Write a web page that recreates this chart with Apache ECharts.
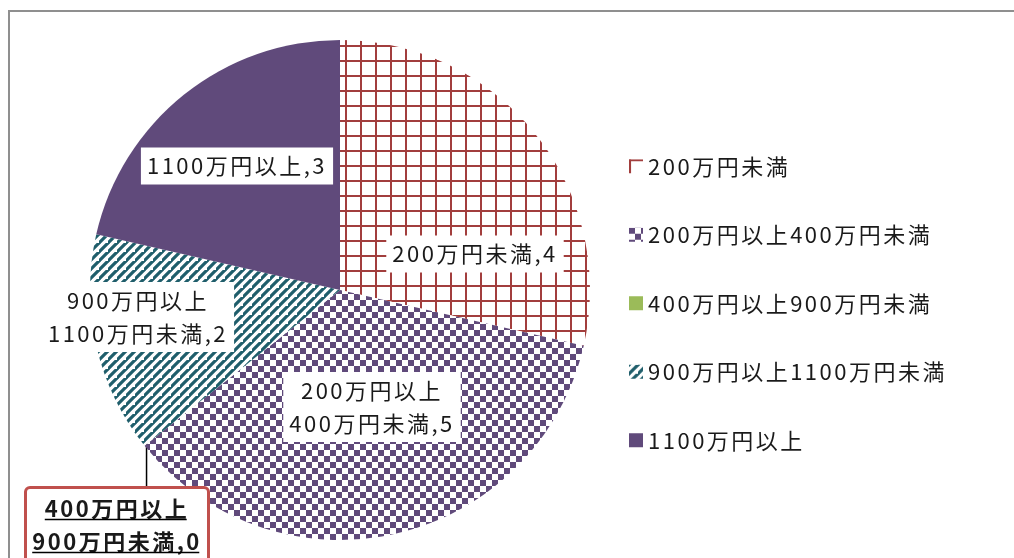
<!DOCTYPE html>
<html>
<head>
<meta charset="utf-8">
<script src="https://cdn.jsdelivr.net/npm/echarts@6/dist/echarts.min.js"></script>
<style>
html,body{margin:0;padding:0;background:#fff;}
#main{width:1014px;height:558px;}
</style>
</head>
<body>
<div id="main"></div>
<script>
// ---- data ----
const categories = ['200万円未満', '200万円以上400万円未満', '400万円以上900万円未満', '900万円以上1100万円未満', '1100万円以上'];
const labelNames = ['200万円未満', '200万円以上\n400万円未満', '400万円以上\n900万円未満', '900万円以上\n1100万円未満', '1100万円以上'];
const values = [4, 5, 0, 2, 3];

// ---- layout / style ----
const FONT = '"Noto Sans CJK JP", "Noto Sans", sans-serif';
const CENTER = [340, 290];
const RADIUS = 250;
const labelPos = [[475, 254], [372, 407], [117, 489], [138, 317], [237, 166]];
const LETTER_SPACING = '2.5px';

// wider character spacing, as in the reference rendering
(function () {
  const proto = CanvasRenderingContext2D.prototype;
  const origFill = proto.fillText, origStroke = proto.strokeText;
  proto.fillText = function () { try { this.letterSpacing = LETTER_SPACING; } catch (e) {} return origFill.apply(this, arguments); };
  proto.strokeText = function () { try { this.letterSpacing = LETTER_SPACING; } catch (e) {} return origStroke.apply(this, arguments); };
  const mctx = document.createElement('canvas').getContext('2d');
  if (echarts.setPlatformAPI) {
    echarts.setPlatformAPI({
      measureText: function (text, font) {
        mctx.font = font || '12px sans-serif';
        try { mctx.letterSpacing = LETTER_SPACING; } catch (e) {}
        return mctx.measureText(text);
      }
    });
  }
})();

function makeCanvas(w, h) { const c = document.createElement('canvas'); c.width = w; c.height = h; return c; }
function gridPattern() {
  const c = makeCanvas(15, 15), g = c.getContext('2d');
  g.fillStyle = '#fff'; g.fillRect(0, 0, 15, 15);
  g.fillStyle = '#A23E3D';
  g.fillRect(0, 0, 2, 15); g.fillRect(0, 0, 15, 2);
  return c;
}
function checkerPattern() {
  const c = makeCanvas(12, 12), g = c.getContext('2d');
  g.fillStyle = '#fff'; g.fillRect(0, 0, 12, 12);
  g.fillStyle = '#604A7B';
  g.fillRect(0, 0, 6, 6); g.fillRect(6, 6, 6, 6);
  return c;
}
function stripePattern() {
  const s = 9;
  const c = makeCanvas(s, s), g = c.getContext('2d');
  g.fillStyle = '#fff'; g.fillRect(0, 0, s, s);
  g.strokeStyle = '#1F5E6B'; g.lineWidth = 3.2;
  g.beginPath();
  g.moveTo(-1, s + 1); g.lineTo(s + 1, -1);
  g.moveTo(-s - 1, s + 1); g.lineTo(1, -1);
  g.moveTo(s - 1, 2 * s + 1); g.lineTo(2 * s + 1, s - 1);
  g.stroke();
  return c;
}
const fills = [
  { image: gridPattern(), repeat: 'repeat' },
  { image: checkerPattern(), repeat: 'repeat' },
  '#9BBB59',
  { image: stripePattern(), repeat: 'repeat' },
  '#604A7B'
];

const total = values.reduce((a, b) => a + b, 0);

const seriesData = categories.map((name, i) => {
  const item = { name: name, value: values[i], itemStyle: { color: fills[i] } };
  if (values[i] === 0) {
    item.label = {
      position: 'inside',
      formatter: p => labelNames[p.dataIndex] + ',' + p.value,
      fontWeight: 'bold',
      backgroundColor: '#fff',
      borderColor: '#C0504D',
      borderWidth: 3,
      borderRadius: 3,
      padding: [3, 8, 12, 8],
      lineHeight: 33,
      width: 164,
      overflow: 'none'
    };
  }
  return item;
});

const chart = echarts.init(document.getElementById('main'), null, { renderer: 'canvas' });

// underline + leader for the zero-slice label
function zeroGraphics() {
  const out = [];
  const idx = values.indexOf(0);
  if (idx < 0) return out;
  let cum = 0;
  for (let i = 0; i < idx; i++) cum += values[i];
  const ang = cum / total * Math.PI * 2;
  const px = CENTER[0] + RADIUS * Math.sin(ang);
  const py = CENTER[1] - RADIUS * Math.cos(ang);
  const lp = labelPos[idx];
  out.push({ type: 'line', shape: { x1: px + 2, y1: py - 5, x2: px + 2, y2: lp[1] }, style: { stroke: '#000', lineWidth: 1.5 }, z: 0 });
  const g = document.createElement('canvas').getContext('2d');
  g.font = 'bold 22px ' + FONT;
  try { g.letterSpacing = LETTER_SPACING; } catch (e) {}
  const sp = parseFloat(LETTER_SPACING);
  const lines = (labelNames[idx] + ',' + values[idx]).split('\n');
  lines.forEach((t, k) => {
    const w = g.measureText(t).width - sp;
    const cx = lp[0] - sp / 2;
    const y = lp[1] + 30.5 + k * 33;
    out.push({ type: 'line', shape: { x1: cx - w / 2, y1: y, x2: cx + w / 2, y2: y }, style: { stroke: '#000', lineWidth: 1.5 }, z: 100 });
  });
  return out;
}

const option = {
  animation: false,
  backgroundColor: '#fff',
  textStyle: { fontFamily: FONT },
  legend: {
    orient: 'vertical',
    left: 624,
    top: 149,
    itemWidth: 14,
    itemHeight: 14,
    itemGap: 44,
    icon: 'rect',
    selectedMode: false,
    textStyle: { fontSize: 22, lineHeight: 22, color: '#1a1a1a', fontFamily: FONT },
    data: categories
  },
  graphic: [
    { type: 'rect', shape: { x: 9, y: 11, width: 1100, height: 700 }, style: { fill: 'none', stroke: '#8f8f8f', lineWidth: 2 }, z: -10 }
  ].concat(zeroGraphics()),
  series: [{
    type: 'pie',
    center: CENTER,
    radius: RADIUS,
    startAngle: 90,
    clockwise: true,
    silent: true,
    avoidLabelOverlap: false,
    itemStyle: { borderWidth: 0 },
    label: {
      show: true,
      position: 'inside',
      formatter: p => labelNames[p.dataIndex] + ',' + p.value,
      fontSize: 22,
      lineHeight: 33,
      color: '#1a1a1a',
      fontFamily: FONT,
      backgroundColor: '#fff',
      padding: [2, 6, 2, 6],
      align: 'center'
    },
    labelLine: { show: false },
    labelLayout: function (params) {
      const p = labelPos[params.dataIndex];
      return {
        x: p[0], y: p[1], align: 'center',
        verticalAlign: values[params.dataIndex] === 0 ? 'top' : 'middle'
      };
    },
    data: seriesData
  }]
};
chart.setOption(option);
</script>
</body>
</html>
